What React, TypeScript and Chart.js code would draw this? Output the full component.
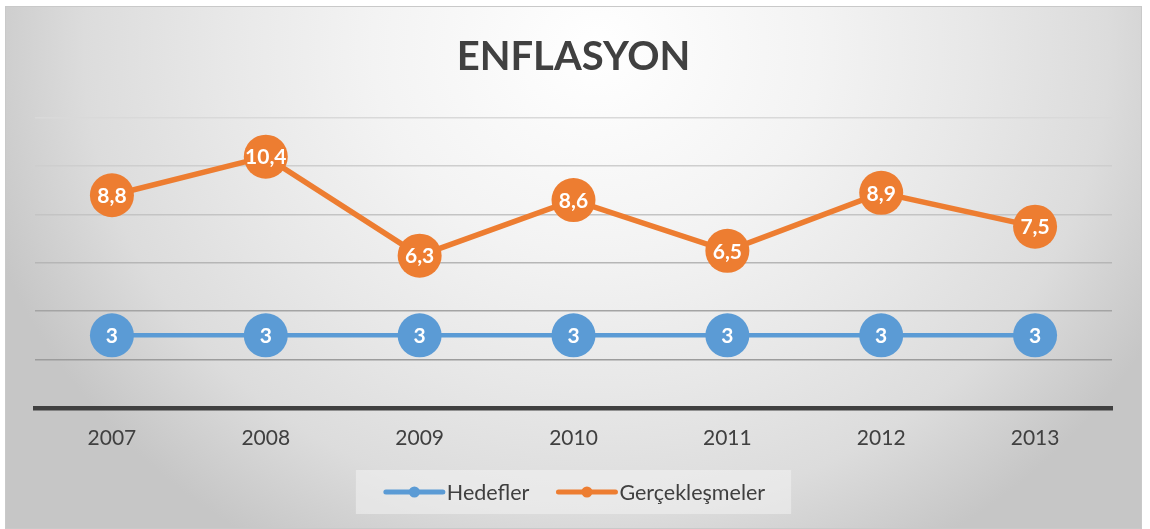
import React, { useEffect, useRef } from "react";
import { Chart, registerables } from "chart.js";

Chart.register(...registerables);

const categories = ["2007", "2008", "2009", "2010", "2011", "2012", "2013"];
const hedefler = [3, 3, 3, 3, 3, 3, 3];
const gerceklesmeler = [8.8, 10.4, 6.3, 8.6, 6.5, 8.9, 7.5];
const seriesLabels = ["Hedefler", "Gerçekleşmeler"];
const seriesColors = ["#5B9BD5", "#ED7D31"];
const titleText = "ENFLASYON";
const yMin = 0;
const yMax = 12;
const yStep = 2;
const gridColors: Record<number, string> = {
  0: "#9a9a9a",
  2: "#9c9c9c",
  4: "#a4a4a4",
  6: "#b6b6b6",
  8: "#c4c4c4",
  10: "#cecece",
  12: "#d9d9d9",
};

const FONT = "Lato, 'Open Sans', sans-serif";

const dataLabelPlugin = {
  id: "dataLabels",
  afterDatasetsDraw(chart: any) {
    const ctx = chart.ctx;
    ctx.save();
    ctx.font = `bold 21px ${FONT}`;
    ctx.fillStyle = "#ffffff";
    ctx.textAlign = "center";
    ctx.textBaseline = "middle";
    chart.data.datasets.forEach((ds: any, i: number) => {
      const meta = chart.getDatasetMeta(i);
      meta.data.forEach((pt: any, j: number) => {
        const v = ds.data[j];
        const txt = String(v).replace(".", ",");
        ctx.fillText(txt, pt.x, pt.y + 1);
      });
    });
    ctx.restore();
  },
};

const legendPlugin = {
  id: "excelLegend",
  afterDraw(chart: any) {
    const ctx = chart.ctx;
    ctx.save();
    ctx.font = `21.5px ${FONT}`;
    const items = chart.data.datasets.map((ds: any) => ({
      label: ds.label,
      color: ds.borderColor,
      w: ctx.measureText(ds.label).width,
    }));
    const lineLen = 57;
    const gapText = 4;
    const gapItem = 29;
    const padL = 30;
    const padR = 26;
    const total =
      items.reduce((s: number, it: any) => s + lineLen + gapText + it.w, 0) +
      gapItem * (items.length - 1);
    const boxW = total + padL + padR;
    const cx = (chart.chartArea.left + chart.chartArea.right) / 2;
    const boxX = cx - boxW / 2;
    const boxH = 44;
    const boxY = chart.height - 58;
    ctx.fillStyle = "rgba(242,242,242,0.55)";
    ctx.fillRect(boxX, boxY, boxW, boxH);
    let x = boxX + padL;
    const y = boxY + boxH / 2;
    items.forEach((it: any) => {
      ctx.strokeStyle = it.color;
      ctx.lineWidth = 5;
      ctx.lineCap = "round";
      ctx.beginPath();
      ctx.moveTo(x, y);
      ctx.lineTo(x + lineLen, y);
      ctx.stroke();
      ctx.fillStyle = it.color;
      ctx.beginPath();
      ctx.arc(x + lineLen / 2, y, 5.5, 0, Math.PI * 2);
      ctx.fill();
      ctx.fillStyle = "#404040";
      ctx.textAlign = "left";
      ctx.textBaseline = "middle";
      ctx.fillText(it.label, x + lineLen + gapText, y + 1);
      x += lineLen + gapText + it.w + gapItem;
    });
    ctx.restore();
  },
};

export default function App() {
  const canvasRef = useRef<HTMLCanvasElement | null>(null);

  useEffect(() => {
    if (!canvasRef.current) return;
    const chart = new Chart(canvasRef.current, {
      type: "line",
      data: {
        labels: categories,
        datasets: [
          {
            label: seriesLabels[0],
            data: hedefler,
            borderColor: seriesColors[0],
            backgroundColor: seriesColors[0],
            pointBackgroundColor: seriesColors[0],
            pointBorderWidth: 0,
            pointRadius: 22,
            pointHoverRadius: 22,
            borderWidth: 4.5,
            tension: 0,
            clip: false as any,
          },
          {
            label: seriesLabels[1],
            data: gerceklesmeler,
            borderColor: seriesColors[1],
            backgroundColor: seriesColors[1],
            pointBackgroundColor: seriesColors[1],
            pointBorderWidth: 0,
            pointRadius: 22,
            pointHoverRadius: 22,
            borderWidth: 5.5,
            tension: 0,
            clip: false as any,
          },
        ],
      },
      options: {
        animation: false,
        responsive: true,
        maintainAspectRatio: false,
        layout: { padding: { left: 29, right: 29, top: 0, bottom: 59 } },
        plugins: {
          legend: { display: false },
          tooltip: { enabled: false },
          title: {
            display: true,
            text: titleText,
            color: "#404040",
            font: { family: FONT, size: 40, weight: "bold", lineHeight: 1.2 },
            padding: { top: 26, bottom: 37 },
          },
        },
        scales: {
          x: {
            offset: true,
            grid: { display: false, drawTicks: false },
            border: { display: true, color: "#404040", width: 4.5 },
            ticks: {
              color: "#404040",
              font: { family: FONT, size: 21 },
              padding: 18,
            },
          },
          y: {
            min: yMin,
            max: yMax,
            ticks: { display: false, stepSize: yStep },
            grid: {
              drawTicks: false,
              lineWidth: 1.6,
              color: (c: any) => gridColors[c.tick?.value] ?? "#bbbbbb",
            },
            border: { display: false },
          },
        },
      },
      plugins: [dataLabelPlugin, legendPlugin],
    });
    return () => chart.destroy();
  }, []);

  return (
    <div
      style={{
        position: "absolute",
        left: 5,
        top: 6,
        width: 1137,
        height: 523,
        boxSizing: "border-box",
        border: "1px solid #c9c9c9",
        background:
          "radial-gradient(ellipse 640px 580px at 52% 8%, #ffffff 0%, #f3f3f3 35%, #e8e8e8 58%, #dcdcdc 80%, #c6c6c6 100%)",
      }}
    >
      <div style={{ position: "absolute", left: 0, top: 0, right: 0, bottom: 0 }}>
        <canvas ref={canvasRef} />
      </div>
    </div>
  );
}
